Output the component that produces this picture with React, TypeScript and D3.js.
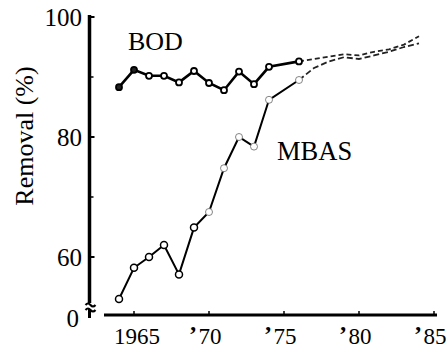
import React from "react";
import * as d3 from "d3";

const bodYears = [1964, 1965, 1966, 1967, 1968, 1969, 1970, 1971, 1972, 1973, 1974, 1976];
const bodValues = [88.3, 91.2, 90.2, 90.2, 89.1, 91.0, 89.0, 87.8, 90.9, 88.8, 91.7, 92.6];
const bodFadedYears = [1976, 1977, 1978, 1979, 1980, 1981, 1982, 1983, 1984];
const bodFadedValues = [92.6, 93.0, 93.4, 93.8, 93.6, 94.2, 94.6, 95.4, 96.8];

const mbasYears = [1964, 1965, 1966, 1967, 1968, 1969, 1970, 1971, 1972, 1973, 1974, 1976];
const mbasValues = [53.0, 58.2, 60.0, 62.0, 57.1, 64.9, 67.5, 74.8, 80.0, 78.4, 86.2, 89.5];
const mbasFadedYears = [1976, 1977, 1978, 1979, 1980, 1981, 1982, 1983, 1984];
const mbasFadedValues = [89.5, 91.5, 92.6, 93.3, 93.0, 93.6, 94.2, 95.0, 95.6];

const xTickYears = [1965, 1970, 1975, 1980, 1985];
const xTickLabels = ["1965", "70", "75", "80", "85"];
const yTickValues = [100, 80, 60];
const yMinorTicks = [90, 70];

const FONT = "'Liberation Serif', 'Times New Roman', serif";

export default function App() {
  const x = d3.scaleLinear().domain([1965, 1985]).range([134, 434]);
  const y = d3.scaleLinear().domain([60, 100]).range([257, 17]);
  const axisY = 315;
  const axisX = 89.5;

  const line = d3
    .line<[number, number]>()
    .x((d) => x(d[0]))
    .y((d) => y(d[1]));

  const bod = bodYears.map((yr, i) => [yr, bodValues[i]] as [number, number]);
  const bodF = bodFadedYears.map((yr, i) => [yr, bodFadedValues[i]] as [number, number]);
  const mbas = mbasYears.map((yr, i) => [yr, mbasValues[i]] as [number, number]);
  const mbasF = mbasFadedYears.map((yr, i) => [yr, mbasFadedValues[i]] as [number, number]);

  return (
    <svg
      width={447}
      height={350}
      style={{ position: "absolute", left: 0, top: 0, background: "#fff" }}
      fontFamily={FONT}
    >
      <rect width={447} height={350} fill="#fff" />
      {/* Y axis */}
      <line x1={axisX} x2={axisX} y1={15} y2={303} stroke="#000" strokeWidth={3.5} />
      <path d={`M${axisX - 4},305 q2.5,-3 5,0 t5,0`} fill="none" stroke="#000" strokeWidth={2} />
      <path d={`M${axisX - 4},310 q2.5,-3 5,0 t5,0`} fill="none" stroke="#000" strokeWidth={2} />
      <line x1={axisX} x2={axisX} y1={309} y2={318} stroke="#000" strokeWidth={3} />
      {yTickValues.map((v) => (
        <g key={v}>
          <line x1={axisX} x2={axisX + 5} y1={y(v)} y2={y(v)} stroke="#000" strokeWidth={2} />
          <text x={82} y={y(v) + 9} textAnchor="end" fontSize={25}>
            {v}
          </text>
        </g>
      ))}
      {yMinorTicks.map((v) => (
        <line key={v} x1={axisX} x2={axisX + 4} y1={y(v)} y2={y(v)} stroke="#000" strokeWidth={1.5} />
      ))}
      <text x={79} y={327} textAnchor="end" fontSize={25}>
        0
      </text>
      <text
        transform="translate(33,136) rotate(-90)"
        textAnchor="middle"
        fontSize={26}
      >
        Removal (%)
      </text>

      {/* X axis */}
      <line x1={104} x2={437} y1={axisY} y2={axisY} stroke="#000" strokeWidth={3} />
      {xTickYears.map((yr, i) => (
        <g key={yr}>
          <line x1={x(yr)} x2={x(yr)} y1={axisY} y2={axisY - 4} stroke="#000" strokeWidth={1.5} />
          {i === 0 ? (
            <text x={x(yr) + 3} y={344} textAnchor="middle" fontSize={23}>
              {xTickLabels[i]}
            </text>
          ) : (
            <>
              <text x={x(yr) + 1} y={344} textAnchor="middle" fontSize={23}>
                {xTickLabels[i]}
              </text>
              <text x={x(yr) - 12} y={342} textAnchor="end" fontSize={24} fontWeight="bold">
                ’
              </text>
            </>
          )}
        </g>
      ))}

      {/* Faded later segments */}
      <path d={line(mbasF) || ""} fill="none" stroke="#222" strokeWidth={1.8} strokeDasharray="6 3" />
      <path d={line(bodF) || ""} fill="none" stroke="#222" strokeWidth={1.8} strokeDasharray="5 3" />

      {/* MBAS */}
      <path d={line(mbas) || ""} fill="none" stroke="#000" strokeWidth={2} />
      {mbas.map((d, i) => (
        <circle
          key={i}
          cx={x(d[0])}
          cy={y(d[1])}
          r={3.5}
          fill="#fff"
          stroke={i < 6 ? "#000" : "#666"}
          strokeWidth={i < 6 ? 1.5 : 0.8}
        />
      ))}

      {/* BOD */}
      <path d={line(bod) || ""} fill="none" stroke="#000" strokeWidth={2.6} />
      {bod.map((d, i) => (
        <circle
          key={i}
          cx={x(d[0])}
          cy={y(d[1])}
          r={3}
          fill={i < 2 ? "#222" : "#fff"}
          stroke="#000"
          strokeWidth={1.8}
        />
      ))}

      <text x={128} y={50} fontSize={26}>
        BOD
      </text>
      <text x={277} y={160} fontSize={26.5}>
        MBAS
      </text>
    </svg>
  );
}
